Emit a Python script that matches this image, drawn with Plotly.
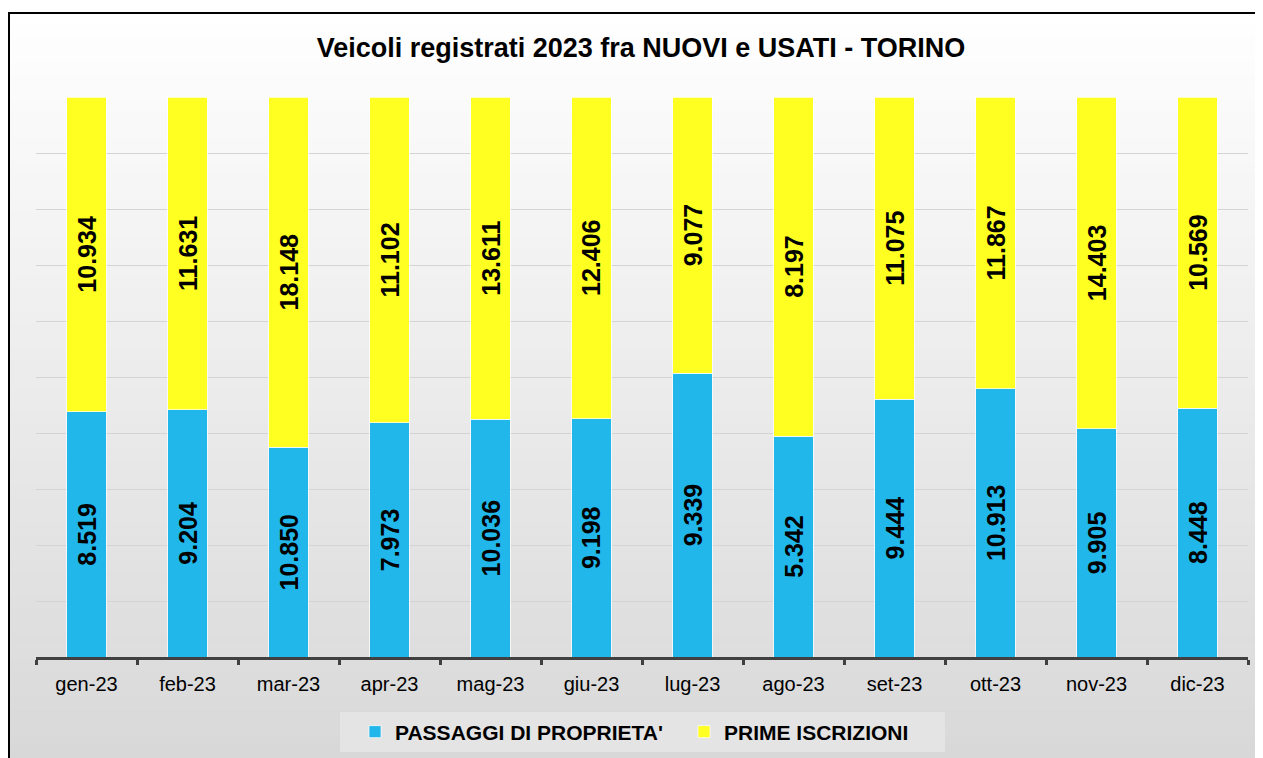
import plotly.graph_objects as go

months = ["gen-23", "feb-23", "mar-23", "apr-23", "mag-23", "giu-23",
          "lug-23", "ago-23", "set-23", "ott-23", "nov-23", "dic-23"]
passaggi = [8519, 9204, 10850, 7973, 10036, 9198, 9339, 5342, 9444, 10913, 9905, 8448]
prime = [10934, 11631, 18148, 11102, 13611, 12406, 9077, 8197, 11075, 11867, 14403, 10569]

title_text = "Veicoli registrati 2023 fra NUOVI e USATI - TORINO"
name_passaggi = "PASSAGGI DI PROPRIETA'"
name_prime = "PRIME ISCRIZIONI"

# page is offset by the 8px body margin; work in page pixels and convert
OFF = 8
W, H = 1263, 758 - OFF
PL, PR, PT, PB = 36, 1248, 97, 657   # plot area in page pixels
L, R, T, B = PL - OFF, (W + OFF) - PR, PT - OFF, (H + OFF) - PB
PW, PH = PR - PL, PB - PT


def px_x(px):
    return (px - PL) / PW


def px_y(py):
    return (PB - py) / PH


def fmt(v):
    return f"{v:,}".replace(",", ".")


FONT = "Liberation Sans, Arial, sans-serif"

fig = go.Figure()
fig.add_trace(go.Bar(
    x=months, y=passaggi, name=name_passaggi,
    marker=dict(color="#21b7ea", line=dict(color="rgba(255,255,255,0.7)", width=1)),
    text=[fmt(v) for v in passaggi], textposition="inside", textangle=-90,
    insidetextanchor="middle",
    textfont=dict(family=FONT, size=25, color="black", weight="bold"),
))
fig.add_trace(go.Bar(
    x=months, y=prime, name=name_prime,
    marker=dict(color="#ffff22", line=dict(color="rgba(255,255,255,0.7)", width=1)),
    text=[fmt(v) for v in prime], textposition="inside", textangle=-90,
    insidetextanchor="middle",
    textfont=dict(family=FONT, size=25, color="black", weight="bold"),
))

# gradient background + frame
shapes = []
top, bottom = 13, 758
n = 60
for i in range(n):
    y0 = top + (bottom - top) * i / n
    y1 = top + (bottom - top) * (i + 1) / n + 0.5
    t = (i + 0.5) / n
    c = round(255 - (255 - 216) * t)
    shapes.append(dict(type="rect", xref="paper", yref="paper", layer="below",
                       x0=px_x(OFF), x1=px_x(1275), y0=px_y(y1), y1=px_y(y0),
                       fillcolor=f"rgb({c},{c},{c})", line=dict(width=0)))
# legend box
shapes.append(dict(type="rect", xref="paper", yref="paper", layer="below",
                   x0=px_x(340), x1=px_x(945), y0=px_y(752), y1=px_y(712),
                   fillcolor="#e4e4e4", line=dict(width=0)))
shapes.append(dict(type="line", xref="paper", yref="paper", layer="above",
                   x0=px_x(OFF), x1=px_x(1275), y0=px_y(13), y1=px_y(13),
                   line=dict(color="black", width=2)))
shapes.append(dict(type="line", xref="paper", yref="paper", layer="above",
                   x0=px_x(OFF + 1), x1=px_x(OFF + 1), y0=px_y(13), y1=px_y(770),
                   line=dict(color="black", width=2)))

fig.update_layout(
    width=W, height=H,
    margin=dict(l=L, r=R, t=T, b=B, pad=0, autoexpand=False),
    paper_bgcolor="white", plot_bgcolor="rgba(0,0,0,0)",
    barmode="stack", barnorm="fraction", bargap=0.61,
    title=dict(text=title_text, x=(641 - OFF) / W, xanchor="center",
               y=1 - (48 - OFF) / H, yanchor="middle", yref="container",
               font=dict(family=FONT, size=27, color="black", weight="bold")),
    xaxis=dict(showline=True, linecolor="#404040", linewidth=3,
               ticks="outside", tickson="boundaries", ticklen=5, tickwidth=3,
               tickcolor="#404040", showgrid=False, automargin=False,
               ticklabelstandoff=7,
               tickfont=dict(family=FONT, size=20, color="black")),
    yaxis=dict(range=[0, 1], dtick=0.1, showticklabels=False, showgrid=True,
               gridcolor="#d4d4d4", gridwidth=1, zeroline=False, showline=False,
               automargin=False),
    legend=dict(orientation="h", x=(355 - OFF) / W, xref="container", xanchor="left",
                y=1 - (732 - OFF) / H, yref="container",
                yanchor="middle", bgcolor="rgba(0,0,0,0)",
                entrywidth=284, entrywidthmode="pixels",
                font=dict(family=FONT, size=21, color="black", weight="bold"),
                traceorder="normal"),
    shapes=shapes,
)

fig.write_html("out.html")
